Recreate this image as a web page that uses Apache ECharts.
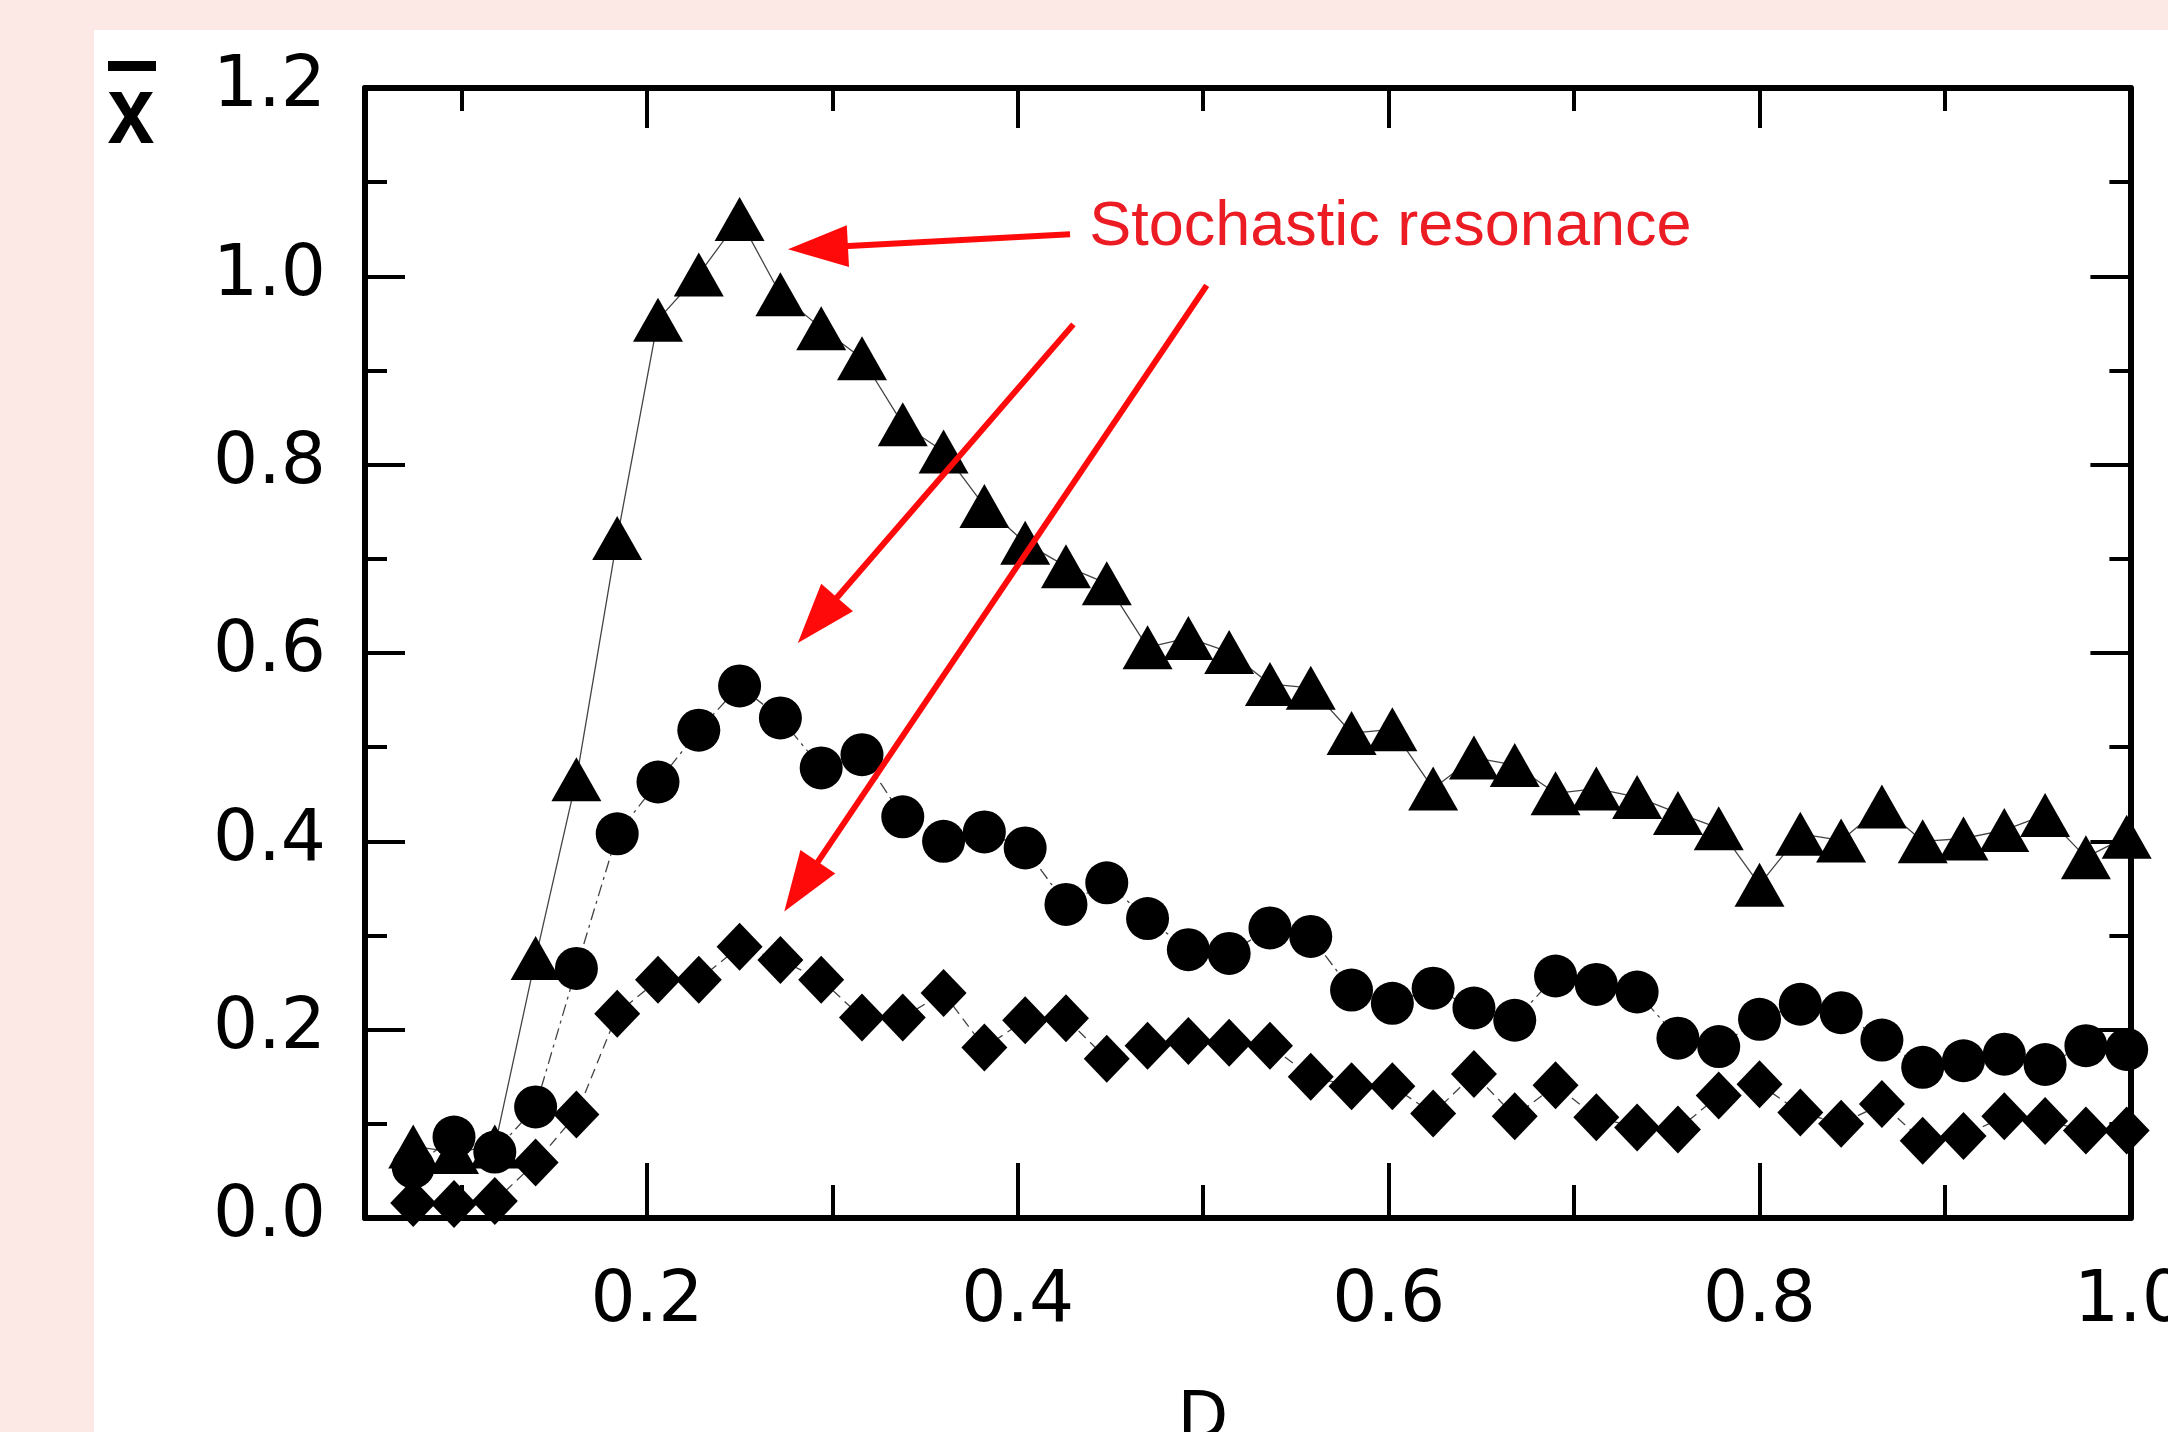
<!DOCTYPE html>
<html><head><meta charset="utf-8">
<script src="https://cdn.jsdelivr.net/npm/echarts@6/dist/echarts.min.js"></script>
<style>
html,body{margin:0;padding:0;width:2168px;height:1432px;overflow:hidden;background:#fce8e4;}
#panel{position:absolute;left:94px;top:30px;right:0;bottom:0;background:#fff;}
#chart{position:absolute;left:0;top:0;width:2168px;height:1432px;}
</style></head><body>
<div id="panel"></div><div id="chart"></div>
<script>
// ---- data ----
const D = [0.074,0.096,0.118,0.140,0.162,0.184,0.206,0.228,0.250,0.272,0.294,0.316,0.338,0.360,0.382,0.404,0.426,0.448,0.470,0.492,0.514,0.536,0.558,0.580,0.602,0.624,0.646,0.668,0.690,0.712,0.734,0.756,0.778,0.800,0.822,0.844,0.866,0.888,0.910,0.932,0.954,0.976,0.998];
const triangles = [0.076,0.070,0.076,0.276,0.466,0.722,0.954,1.002,1.061,0.981,0.945,0.913,0.843,0.814,0.756,0.717,0.692,0.674,0.606,0.616,0.601,0.567,0.563,0.515,0.519,0.456,0.489,0.481,0.451,0.456,0.447,0.430,0.414,0.354,0.408,0.401,0.437,0.400,0.403,0.412,0.428,0.383,0.405];
const circles = [0.054,0.086,0.070,0.118,0.265,0.408,0.463,0.518,0.565,0.531,0.478,0.492,0.426,0.400,0.410,0.393,0.333,0.356,0.318,0.285,0.281,0.308,0.299,0.242,0.228,0.244,0.223,0.210,0.257,0.248,0.240,0.191,0.182,0.211,0.227,0.218,0.189,0.160,0.167,0.174,0.163,0.183,0.179];
const diamonds = [0.016,0.015,0.018,0.059,0.110,0.217,0.253,0.253,0.288,0.274,0.253,0.213,0.213,0.239,0.181,0.210,0.212,0.169,0.183,0.188,0.186,0.183,0.150,0.140,0.140,0.111,0.153,0.108,0.141,0.107,0.096,0.094,0.130,0.142,0.112,0.100,0.121,0.082,0.087,0.108,0.103,0.093,0.093];
const xMajorTicks = [0.2,0.4,0.6,0.8,1.0];
const xMinorTicks = [0.1,0.3,0.5,0.7,0.9];
const yMajorTicks = [0.2,0.4,0.6,0.8,1.0];
const yMinorTicks = [0.1,0.3,0.5,0.7,0.9,1.1];
const xLabelValues = [0.2,0.4,0.6,0.8,1.0];
const yLabelValues = [0.0,0.2,0.4,0.6,0.8,1.0,1.2];
const annotationText = 'Stochastic resonance';
const annotationAnchor = [0.4385, 1.0513];
const arrows = [
  {from:[0.4282,1.0446], to:[0.2761,1.0287]},
  {from:[0.4300,0.9490], to:[0.2814,0.6107]},
  {from:[0.5019,0.9904], to:[0.2741,0.3255]}
];
const XMIN = 0.048, XMAX = 1.0, YMIN = 0, YMAX = 1.2;

const chart = echarts.init(document.getElementById('chart'), null, {renderer:'canvas'});
const labelFont = {fontSize:71, fontFamily:'DejaVu Sans', color:'#000'};
function xAx(pos, len, ticks, labels, line){
  return {type:'value', position:pos, min:XMIN, max:XMAX, offset:0,
    axisLine:{show:line, onZero:false, lineStyle:{color:'#000', width:6}},
    axisTick:{show:true, inside:true, length:len, customValues:ticks, lineStyle:{color:'#000', width:4}},
    axisLabel: labels ? Object.assign({show:true, customValues:xLabelValues, margin:49, formatter:v=>Number(v).toFixed(1)}, labelFont) : {show:false},
    splitLine:{show:false}};
}
function yAx(pos, len, ticks, labels, line){
  return {type:'value', position:pos, min:YMIN, max:YMAX, offset:0,
    axisLine:{show:line, onZero:false, lineStyle:{color:'#000', width:6}},
    axisTick:{show:true, inside:true, length:len, customValues:ticks, lineStyle:{color:'#000', width:4}},
    axisLabel: labels ? Object.assign({show:true, customValues:yLabelValues, margin:39, formatter:v=>Number(v).toFixed(1)}, labelFont) : {show:false},
    splitLine:{show:false}};
}
const lineBase = {color:'#444', width:1.3};
chart.setOption({
  animation:false,
  backgroundColor:'transparent',
  grid:{left:365, right:37.6, top:88, bottom:214, containLabel:false, outerBoundsMode:'none'},
  xAxis:[xAx('bottom',55,xMajorTicks,true,true), xAx('bottom',33,xMinorTicks,false,false),
         xAx('top',40,xMajorTicks,false,true), xAx('top',23,xMinorTicks,false,false)],
  yAxis:[yAx('left',40,yMajorTicks,true,true), yAx('left',22,yMinorTicks,false,false),
         yAx('right',40,yMajorTicks,false,true), yAx('right',21,yMinorTicks,false,false)],
  series:[
    {type:'line', data:D.map((d,i)=>[d,triangles[i]]), symbol:'triangle', symbolSize:[50,44],
     itemStyle:{color:'#000'}, lineStyle:Object.assign({type:'solid'},lineBase), z:2},
    {type:'line', data:D.map((d,i)=>[d,circles[i]]), symbol:'circle', symbolSize:43,
     itemStyle:{color:'#000'}, lineStyle:Object.assign({type:[12,5,3,5]},lineBase), z:3},
    {type:'line', data:D.map((d,i)=>[d,diamonds[i]]), symbol:'diamond', symbolSize:[46,48],
     itemStyle:{color:'#000'}, lineStyle:Object.assign({type:[10,6]},lineBase), z:4}
  ]
});

// annotations placed in data coordinates
const px = p => chart.convertToPixel({gridIndex:0}, p);
const red = '#ff0a0a';
const graphics = [];
arrows.forEach(a=>{
  const s = px(a.from), t = px(a.to);
  const dx = t[0]-s[0], dy = t[1]-s[1], L = Math.hypot(dx,dy);
  const ux = dx/L, uy = dy/L, hl = 60, hw = 21;
  const bx = t[0]-ux*hl, by = t[1]-uy*hl;
  graphics.push({type:'line', shape:{x1:s[0],y1:s[1],x2:bx+ux*4,y2:by+uy*4}, style:{stroke:red, lineWidth:6}, z:100});
  graphics.push({type:'polygon', shape:{points:[[t[0],t[1]],[bx-uy*hw,by+ux*hw],[bx+uy*hw,by-ux*hw]]}, style:{fill:red}, z:100});
});
const ta = px(annotationAnchor);
graphics.push({type:'text', x:ta[0], y:ta[1], style:{text:annotationText, fill:'#ec1c24', fontSize:63, fontFamily:'Liberation Sans', align:'left', verticalAlign:'middle'}, z:100});
// y axis title: x with overbar
graphics.push({type:'text', x:131, y:117, scaleX:0.88, style:{text:'x', fill:'#000', fontSize:96, fontWeight:'bold', fontFamily:'Liberation Sans', align:'center', verticalAlign:'middle'}, z:100});
graphics.push({type:'rect', shape:{x:108, y:61, width:48, height:10}, style:{fill:'#000'}, z:100});
// x axis title
graphics.push({type:'text', x:1203, y:1421, style:{text:'D', fill:'#000', fontSize:66, fontFamily:'DejaVu Sans', align:'center', verticalAlign:'middle'}, z:100});
chart.setOption({graphic:graphics});
</script>
</body></html>
